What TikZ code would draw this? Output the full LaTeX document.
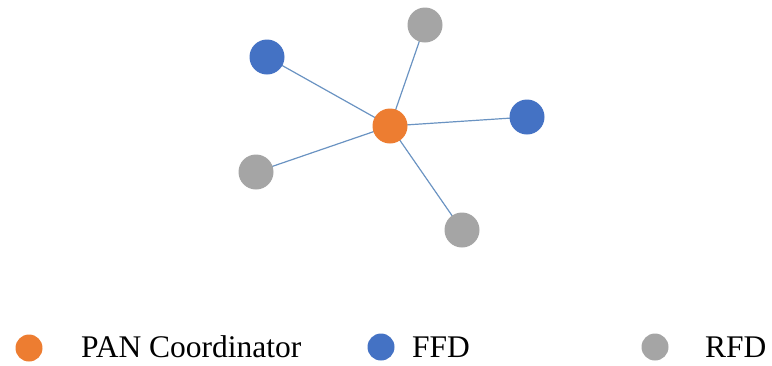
\documentclass[tikz,border=0pt]{standalone}
\usepackage{fontspec}
\setmainfont{Liberation Serif}
\definecolor{pan}{HTML}{ED7D31}
\definecolor{ffd}{HTML}{4472C4}
\definecolor{rfd}{HTML}{A5A5A5}
\definecolor{link}{HTML}{6A93C2}
\begin{document}
\begin{tikzpicture}[x=1pt,y=-1pt,
  dev/.style={circle,minimum size=35pt,inner sep=0pt},
  legdot/.style={circle,minimum size=27pt,inner sep=0pt},
  link/.style={draw=link,line width=1.2pt},
  legtext/.style={anchor=base west,inner sep=0pt,font=\fontsize{31.5}{35}\selectfont}]
\useasboundingbox (0,0) rectangle (772,365);
% links first
\coordinate (cC) at (390,126);
\coordinate (cG1) at (425,25);
\coordinate (cB1) at (267,57);
\coordinate (cB2) at (527,117);
\coordinate (cG2) at (256,172);
\coordinate (cG3) at (462,230);
\foreach \p in {cG1,cB1,cB2,cG2,cG3}{\draw[link] (cC) -- (\p);}
\node[dev,fill=pan] (coord) at (cC) {};
\node[dev,fill=rfd] (g1) at (cG1) {};
\node[dev,fill=ffd] (b1) at (cB1) {};
\node[dev,fill=ffd] (b2) at (cB2) {};
\node[dev,fill=rfd] (g2) at (cG2) {};
\node[dev,fill=rfd] (g3) at (cG3) {};
% legend
\node[legdot,fill=pan] (lp) at (29,348) {};
\node[legtext] (tp) at (81,357) {PAN Coordinator};
\node[legdot,fill=ffd] (lb) at (381,347) {};
\node[legtext] (tb) at (412,357) {FFD};
\node[legdot,fill=rfd] (lg) at (655,347) {};
\node[legtext] (tg) at (705,357) {RFD};
\end{tikzpicture}
\end{document}
